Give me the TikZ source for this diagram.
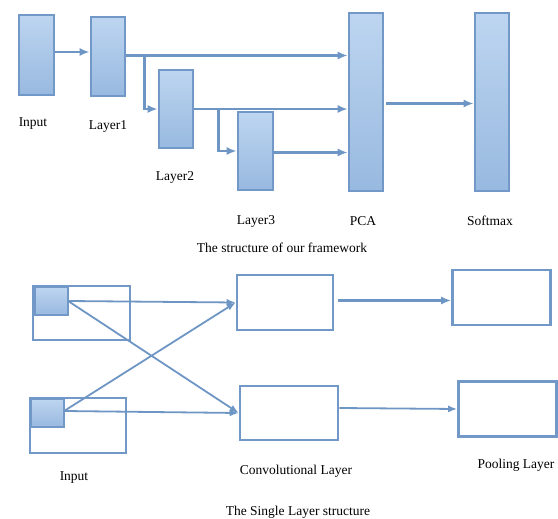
\documentclass[tikz,border=0pt]{standalone}
\usepackage{fontspec}
\setmainfont{Liberation Serif}
\usetikzlibrary{arrows.meta,calc}
\definecolor{bord}{RGB}{113,152,198}
\definecolor{lnc}{RGB}{110,150,196}
\definecolor{ftop}{RGB}{189,213,240}
\definecolor{fbot}{RGB}{152,185,224}
\tikzset{
  layerbox/.style={draw=bord,line width=2.6pt,top color=ftop,bottom color=fbot,inner sep=0pt,rectangle},
  plainbox/.style={draw=bord,line width=2.6pt,fill=white,inner sep=0pt,rectangle},
  smallbox/.style={draw=bord,line width=2.2pt,top color=ftop,bottom color=fbot,inner sep=0pt,rectangle},
  arr/.style={draw=lnc,line width=2.4pt,-{Latex[length=10pt,width=8pt]}},
  arrthin/.style={draw=lnc,line width=1.8pt,-{Latex[length=9pt,width=7pt]}},
  lbl/.style={font=\fontsize{13.5}{15}\selectfont,text=black,inner sep=0pt}
}
\begin{document}
\begin{tikzpicture}[x=1pt,y=-1pt]
\useasboundingbox (0,0) rectangle (558,519);
% top framework
\node[layerbox,minimum width=35pt,minimum height=80pt] (in) at (36.5,55) {};
\node[layerbox,minimum width=34pt,minimum height=79pt] (l1) at (108,56.5) {};
\node[layerbox,minimum width=34pt,minimum height=78pt] (l2) at (176,109) {};
\node[layerbox,minimum width=35pt,minimum height=78pt] (l3) at (255.5,151) {};
\node[layerbox,minimum width=34pt,minimum height=178pt] (pca) at (366,102) {};
\node[layerbox,minimum width=34pt,minimum height=178pt] (sm) at (492,102) {};

\draw[arr] ([yshift=3pt]in.east) -- ([yshift=3pt]in.east -| l1.west);
\draw[arr] ([yshift=1pt]l1.east) -- ([yshift=1pt]l1.east -| pca.west);
\draw[arr] ([xshift=18pt,yshift=1pt]l1.east) |- (l2.west);
\draw[arr] (l2.east) -- (l2.east -| pca.west);
\draw[arr] ([xshift=24pt]l2.east) |- (l3.west);
\draw[arr] ([yshift=-1.5pt]l3.east) -- ([yshift=-1.5pt]l3.east -| pca.west);
\draw[arr] ([xshift=2pt,yshift=-1.5pt]pca.east) -- ([yshift=-1.5pt]sm.west);

\node[lbl] (tin) at (33,124) {Input};
\node[lbl] (tl1) at (108,127) {Layer1};
\node[lbl] (tl2) at (175,177) {Layer2};
\node[lbl] (tl3) at (256,221) {Layer3};
\node[lbl] (tpca) at (363,221) {PCA};
\node[lbl] (tsm) at (490,221) {Softmax};
\node[lbl] (cap1) at (282,248) {The structure of our framework};

% bottom single layer
\node[plainbox,minimum width=97pt,minimum height=54pt] (ib1) at (81.5,313) {};
\node[smallbox,minimum width=33pt,minimum height=28pt] (s1) at (51.5,301) {};
\node[plainbox,minimum width=96pt,minimum height=55pt] (ib2) at (78,425.5) {};
\node[smallbox,minimum width=33pt,minimum height=28pt] (s2) at (47.5,413) {};
\node[plainbox,minimum width=96pt,minimum height=55pt] (c1) at (285,302.5) {};
\node[plainbox,minimum width=98pt,minimum height=54pt] (c2) at (289,413) {};
\node[plainbox,minimum width=98pt,minimum height=55pt] (p1) at (501.5,297.5) {};
\node[plainbox,minimum width=98pt,minimum height=55pt] (p2) at (507.5,409) {};

\draw[arrthin] ([xshift=-1pt]s1.east) -- (c1.west);
\draw[arrthin] ([xshift=-1pt]s1.east) -- (c2.west);
\draw[arrthin] ([xshift=-1pt,yshift=2pt]s2.east) -- (c1.west);
\draw[arrthin] ([xshift=-1pt,yshift=2pt]s2.east) -- (c2.west);
\draw[arr] ([xshift=4pt,yshift=2pt]c1.east) -- ([yshift=2pt]c1.east -| p1.west);
\draw[arrthin] ([yshift=5pt]c2.east) -- (p2.west);

\node[lbl] (tin2) at (74,478) {Input};
\node[lbl] (tconv) at (296,471) {Convolutional Layer};
\node[lbl] (tpool) at (516,465) {Pooling Layer};
\node[lbl] (cap2) at (298,512) {The Single Layer structure};
\end{tikzpicture}
\end{document}
